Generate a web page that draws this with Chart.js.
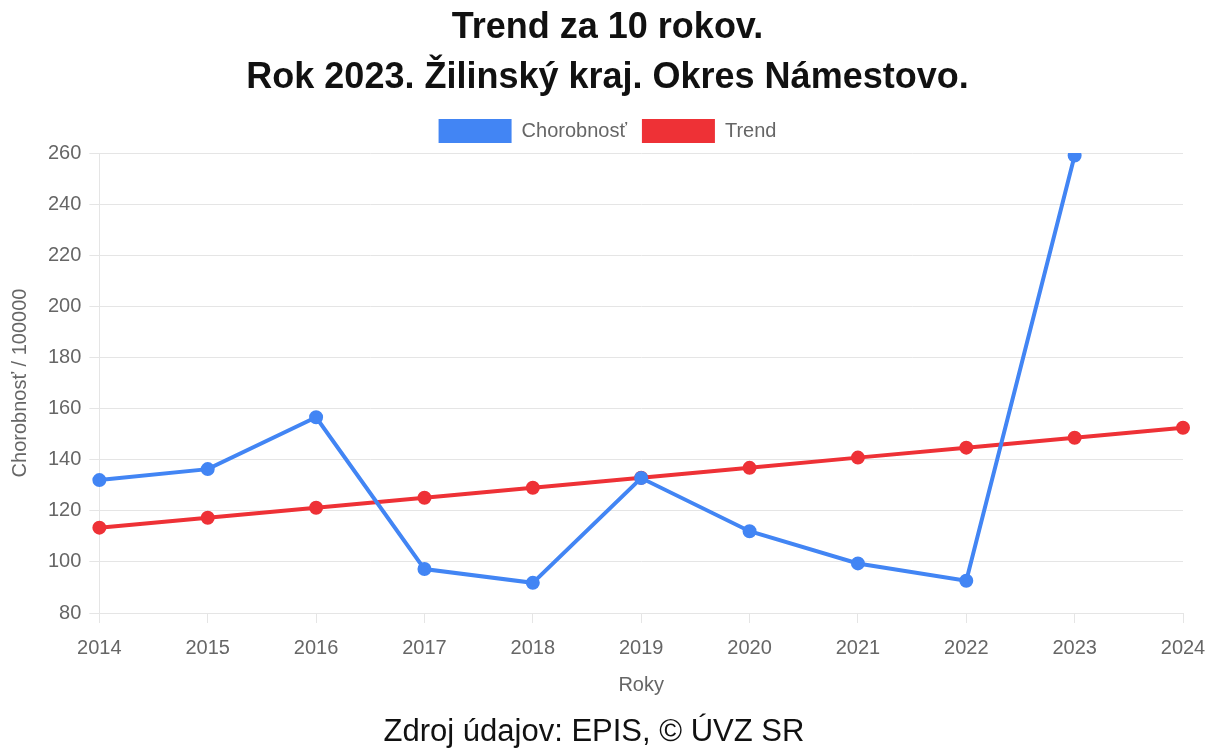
<!DOCTYPE html>
<html>
<head>
<meta charset="utf-8">
<script src="https://cdn.jsdelivr.net/npm/chart.js@4"></script>
<style>
  html, body { margin: 0; padding: 0; background: #fff; }
  #wrap { position: relative; width: 1215px; height: 749px; }
  #source {
    position: absolute; left: 0; top: 713px; width: 1188px;
    text-align: center; font: 31px/36px "Liberation Sans", Arial, sans-serif; color: #111;
  }
</style>
</head>
<body>
<div id="wrap">
  <canvas id="trendChart"></canvas>
  <div id="source">Zdroj údajov: EPIS, © ÚVZ SR</div>
</div>
<script>
const years = ['2014', '2015', '2016', '2017', '2018', '2019', '2020', '2021', '2022', '2023', '2024'];
// chorobnost na 100000 obyvatelov (2024 este nie je)
const chorobnost = [132.0, 136.3, 156.6, 97.2, 91.8, 132.8, 112.0, 99.4, 92.6, 259.0, null];
// linearny trend
const trend = [113.4, 117.3, 121.2, 125.1, 129.0, 132.9, 136.8, 140.8, 144.7, 148.6, 152.5];

const fontFamily = '"Liberation Sans", Arial, sans-serif';
const blue = '#4285F4';
const red = '#EE3136';

const ctx = document.getElementById('trendChart').getContext('2d');

new Chart(ctx, {
    type: 'line',
    data: {
        labels: years,
        datasets: [
            {
                label: 'Chorobnosť',
                data: chorobnost,
                borderColor: blue,
                backgroundColor: blue,
                borderWidth: 4,
                pointRadius: 5,
                pointBackgroundColor: blue,
                tension: 0
            },
            {
                label: 'Trend',
                data: trend,
                borderColor: red,
                backgroundColor: red,
                borderWidth: 4,
                pointRadius: 5,
                pointBackgroundColor: red,
                tension: 0
            }
        ]
    },
    options: {
        responsive: true,
        maintainAspectRatio: false,
        animation: false,
        layout: { padding: { left: 0, right: 0, top: 0, bottom: 48 } },
        plugins: {
            title: {
                display: true,
                text: ['Trend za 10 rokov.', 'Rok 2023. Žilinský kraj. Okres Námestovo.'],
                color: '#111',
                font: { family: fontFamily, size: 36, weight: 'bold', lineHeight: 1.39 },
                padding: { top: 2, bottom: 1 }
            },
            legend: {
                labels: {
                    color: '#666',
                    font: { family: fontFamily, size: 20 },
                    boxWidth: 73,
                    boxHeight: 24,
                    padding: 15,
                    // plne obdlzniky bez obrysu
                    generateLabels: (chart) => Chart.defaults.plugins.legend.labels.generateLabels(chart)
                        .map(item => ({ ...item, lineWidth: 0 }))
                }
            },
            tooltip: { enabled: false }
        },
        scales: {
            x: {
                // trochu miesta vpravo, aby bol titulok v strede
                afterFit: (scale) => { scale.paddingRight = 32; },
                grid: { drawOnChartArea: false, color: '#e5e5e5', tickLength: 10 },
                border: { color: '#e5e5e5' },
                ticks: { color: '#666', padding: 13, font: { family: fontFamily, size: 20 }, maxRotation: 0 },
                title: {
                    display: true, text: 'Roky', color: '#666',
                    font: { family: fontFamily, size: 20 },
                    padding: { top: 0, bottom: 4 }
                }
            },
            y: {
                min: 80,
                max: 260,
                // graf zacina o kusok nizsie pod legendou
                afterFit: (scale) => { scale.paddingTop = 153; },
                grid: { color: '#e5e5e5', tickLength: 10 },
                border: { color: '#e5e5e5' },
                ticks: { stepSize: 20, padding: 8, color: '#666', font: { family: fontFamily, size: 20 } },
                title: {
                    display: true, text: 'Chorobnosť / 100000', color: '#666',
                    font: { family: fontFamily, size: 20 },
                    padding: 8
                }
            }
        }
    }
});
</script>
</body>
</html>
